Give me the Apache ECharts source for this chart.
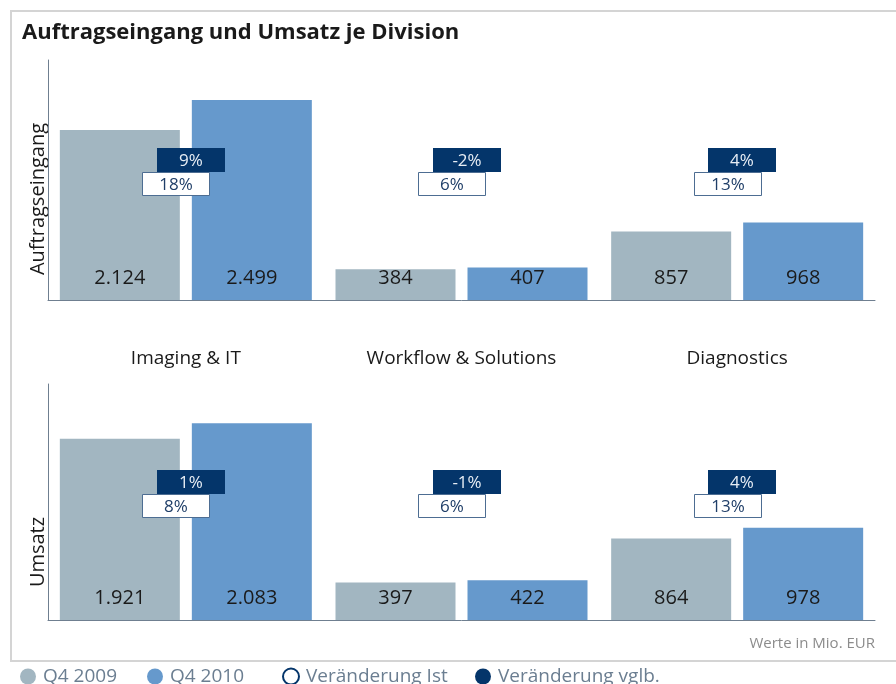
<!DOCTYPE html>
<html>
<head>
<meta charset="utf-8">
<script src="https://cdn.jsdelivr.net/npm/echarts@6/dist/echarts.min.js"></script>
<style>
  html, body { margin: 0; padding: 0; background: #fff; }
  #chart { width: 896px; height: 684px; }
</style>
</head>
<body>
<div id="chart"></div>
<script>
const divisions = ["Imaging & IT", "Workflow & Solutions", "Diagnostics"];

// Auftragseingang (Mio. EUR)
const orders2009 = [2124, 384, 857];
const orders2010 = [2499, 407, 968];
const ordersChangeIst = [18, 6, 13];
const ordersChangeVglb = [9, -2, 4];

// Umsatz (Mio. EUR)
const sales2009 = [1921, 397, 864];
const sales2010 = [2083, 422, 978];
const salesChangeIst = [8, 6, 13];
const salesChangeVglb = [1, -1, 4];

const legendNames = ["Q4 2009", "Q4 2010", "Veränderung Ist", "Veränderung vglb."];

const FONT = '"Open Sans", "Noto Sans", sans-serif';
const C_2009 = "#a2b6c1";
const C_2010 = "#6699cc";
const C_NAVY = "#04356a";
const C_AXIS = "#6f7f90";
const C_TEXT = "#1a1a1a";

// badges sit at this fraction of the plot height
const BADGE_POS = 0.468;

function fmtNum(n) {
    return String(n).replace(/\B(?=(\d{3})+(?!\d))/g, ".");
}

function fmtPct(v) {
    return v + "%";
}

function renderIst(params, api) {
    const cx = api.coord([api.value(0), 0])[0];
    const cs = params.coordSys;
    const y = Math.round(cs.y + cs.height * BADGE_POS) + 0.5;
    const x = Math.round(cx - 10 - 33.5) + 0.5;
    return {
        type: "group",
        children: [
            {
                type: "rect",
                shape: { x: x, y: y, width: 67, height: 23 },
                style: { fill: "#fff", stroke: "#4d6d92", lineWidth: 1 }
            },
            {
                type: "text",
                style: {
                    text: fmtPct(api.value(1)),
                    x: x + 33.5, y: y + 13,
                    align: "center", verticalAlign: "middle",
                    fill: "#1f3e68", fontSize: 17, fontFamily: FONT
                }
            }
        ]
    };
}

function renderVglb(params, api) {
    const cx = api.coord([api.value(0), 0])[0];
    const cs = params.coordSys;
    const y = Math.round(cs.y + cs.height * BADGE_POS);
    const x = Math.round(cx + 5 - 34);
    return {
        type: "group",
        children: [
            {
                type: "rect",
                shape: { x: x, y: y - 24, width: 68, height: 24 },
                style: { fill: C_NAVY }
            },
            {
                type: "text",
                style: {
                    text: fmtPct(api.value(1)),
                    x: x + 34, y: y - 11,
                    align: "center", verticalAlign: "middle",
                    fill: "#e8eef5", fontSize: 17, fontFamily: FONT
                }
            }
        ]
    };
}

function barSeries(name, data, color, idx) {
    return {
        name: name,
        type: "bar",
        xAxisIndex: idx,
        yAxisIndex: idx,
        barWidth: 120,
        barGap: "10%",
        itemStyle: { color: color },
        label: {
            show: true,
            position: "insideBottom",
            distance: 12,
            formatter: p => fmtNum(p.value),
            fontSize: 20,
            fontFamily: FONT,
            color: C_TEXT
        },
        data: data
    };
}

function badgeSeries(name, values, render, color, idx) {
    return {
        name: name,
        type: "custom",
        z: 10,
        xAxisIndex: idx,
        yAxisIndex: idx,
        itemStyle: { color: color },
        encode: { x: 0, y: 1 },
        renderItem: render,
        data: values.map((v, i) => [i, v])
    };
}

const legendIcons = [
    { color: C_2009 },
    { color: C_2010 },
    { color: "#fff", borderColor: C_NAVY, borderWidth: 2 },
    { color: C_NAVY }
];
const legendLeft = [20, 147, 282, 475];

const chart = echarts.init(document.getElementById("chart"));

chart.setOption({
    animation: false,
    textStyle: { fontFamily: FONT },
    title: [
        {
            text: "Auftragseingang und Umsatz je Division",
            left: 22,
            top: 22,
            padding: 0,
            textStyle: { fontSize: 22, fontWeight: "bold", color: C_TEXT, fontFamily: FONT }
        },
        {
            text: "Werte in Mio. EUR",
            right: 21,
            top: 636,
            padding: 0,
            textStyle: { fontSize: 15, fontWeight: "normal", color: "#8c8c8c", fontFamily: FONT }
        }
    ],
    legend: legendNames.map((name, i) => ({
        left: legendLeft[i],
        top: 667,
        padding: 0,
        itemWidth: 16,
        itemHeight: 16,
        selectedMode: false,
        textStyle: { fontSize: 19, color: "#6b7e91", fontFamily: FONT, padding: [0, 0, 0, 2] },
        data: [{ name: name, icon: "circle", itemStyle: legendIcons[i] }]
    })),
    graphic: [
        {
            type: "rect",
            shape: { x: 11, y: 11, width: 900, height: 650 },
            style: { fill: "none", stroke: "#d4d4d4", lineWidth: 2 },
            silent: true
        },
        {
            type: "text",
            x: 38, y: 199,
            rotation: Math.PI / 2,
            style: {
                text: "Auftragseingang", align: "center", verticalAlign: "middle",
                fontSize: 20, fontFamily: FONT, fill: C_TEXT
            }
        },
        {
            type: "text",
            x: 38, y: 552,
            rotation: Math.PI / 2,
            style: {
                text: "Umsatz", align: "center", verticalAlign: "middle",
                fontSize: 20, fontFamily: FONT, fill: C_TEXT
            }
        }
    ],
    grid: [
        { left: 48, right: 21, top: 60, height: 240 },
        { left: 48, right: 21, top: 384, height: 236 }
    ],
    xAxis: [
        {
            type: "category",
            gridIndex: 0,
            data: divisions,
            axisLine: { lineStyle: { color: C_AXIS, width: 1 } },
            axisTick: { show: false },
            axisLabel: { margin: 49, fontSize: 19, color: C_TEXT, fontFamily: FONT }
        },
        {
            type: "category",
            gridIndex: 1,
            data: divisions,
            axisLine: { lineStyle: { color: C_AXIS, width: 1 } },
            axisTick: { show: false },
            axisLabel: { show: false }
        }
    ],
    yAxis: [
        {
            type: "value",
            gridIndex: 0,
            min: 0,
            max: 3000,
            axisLine: { show: true, lineStyle: { color: C_AXIS, width: 1 } },
            axisTick: { show: false },
            axisLabel: { show: false },
            splitLine: { show: false }
        },
        {
            type: "value",
            gridIndex: 1,
            min: 0,
            max: 2500,
            axisLine: { show: true, lineStyle: { color: C_AXIS, width: 1 } },
            axisTick: { show: false },
            axisLabel: { show: false },
            splitLine: { show: false }
        }
    ],
    series: [
        barSeries("Q4 2009", orders2009, C_2009, 0),
        barSeries("Q4 2010", orders2010, C_2010, 0),
        barSeries("Q4 2009", sales2009, C_2009, 1),
        barSeries("Q4 2010", sales2010, C_2010, 1),
        badgeSeries("Veränderung Ist", ordersChangeIst, renderIst, "#fff", 0),
        badgeSeries("Veränderung vglb.", ordersChangeVglb, renderVglb, C_NAVY, 0),
        badgeSeries("Veränderung Ist", salesChangeIst, renderIst, "#fff", 1),
        badgeSeries("Veränderung vglb.", salesChangeVglb, renderVglb, C_NAVY, 1)
    ]
});

window.addEventListener("resize", () => chart.resize());
</script>
</body>
</html>
